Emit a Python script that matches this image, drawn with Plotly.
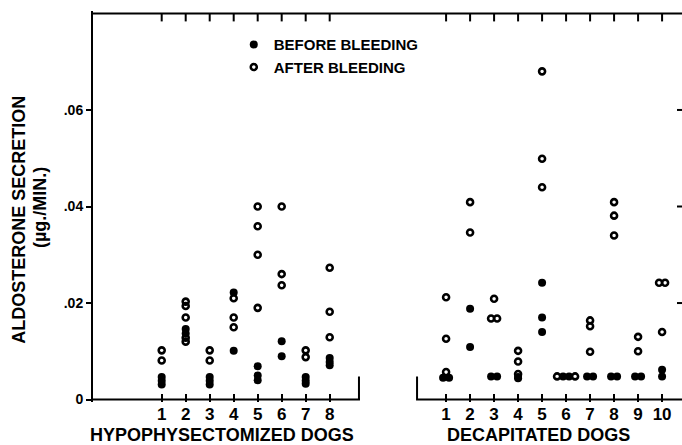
import plotly.graph_objects as go

# Aldosterone secretion (ug/min) per dog, before and after bleeding
hypo_dogs = ["1", "2", "3", "4", "5", "6", "7", "8"]
hypo_before = [
    [0.0047, 0.0039, 0.0031],
    [0.0146, 0.0137],
    [0.0047, 0.0039, 0.0031],
    [0.0222, 0.0101],
    [0.0069, 0.0050, 0.0040],
    [0.0121, 0.0090],
    [0.0047, 0.0039, 0.0033],
    [0.0086, 0.0078, 0.0071],
]
hypo_after = [
    [0.0102, 0.0081],
    [0.0203, 0.0194, 0.0170, 0.0128, 0.0120],
    [0.0102, 0.0081],
    [0.0210, 0.0170, 0.0150],
    [0.0400, 0.0359, 0.0300, 0.0190],
    [0.0400, 0.0260, 0.0237],
    [0.0102, 0.0088],
    [0.0273, 0.0182, 0.0129],
]

decap_dogs = ["1", "2", "3", "4", "5", "6", "7", "8", "9", "10"]
decap_before = [
    [0.0045, 0.0045],
    [0.0188, 0.0109],
    [0.0048, 0.0048],
    [0.0047, 0.0044],
    [0.0242, 0.0170, 0.0140],
    [0.0048, 0.0048],
    [0.0048, 0.0048],
    [0.0048, 0.0048],
    [0.0048, 0.0048],
    [0.0062, 0.0048],
]
decap_after = [
    [0.0212, 0.0126, 0.0057],
    [0.0409, 0.0346],
    [0.0209, 0.0168, 0.0168],
    [0.0101, 0.0079, 0.0053],
    [0.0680, 0.0499, 0.0440],
    [0.0048, 0.0048],
    [0.0164, 0.0152, 0.0099],
    [0.0409, 0.0381, 0.0340],
    [0.0130, 0.0100],
    [0.0242, 0.0242, 0.0140],
]

y_ticks = [0, 0.02, 0.04, 0.06]
y_ticktext = ["0", ".02", ".04", ".06"]

# layout of the category axis (dog slots)
DECAP_OFFSET = 11.85
X_RANGE = [-1.8625, 22.68]
Y_RANGE = [-0.0005, 0.0805]
FRAME_TOP = 0.08
HYPO_END = 9.22
DECAP_START = 11.64
END_BAR = 0.0048
SPREAD = 0.25
TOL = 0.0002

W, H = 682, 445
MARGIN = dict(l=93, r=0, t=11, b=43)
PLOT_W = W - MARGIN["l"] - MARGIN["r"]
PLOT_H = H - MARGIN["t"] - MARGIN["b"]
# tick lengths of the top and right frame, converted from px to data units
TOP_TICK_V = 8 * (Y_RANGE[1] - Y_RANGE[0]) / PLOT_H
RIGHT_TICK_X = 5 * (X_RANGE[1] - X_RANGE[0]) / PLOT_W

FONT = "Liberation Sans"


def place(slot, before, after):
    """Return x/y for both series, spreading coincident values sideways."""
    pts = [(v, "b") for v in before] + [(v, "a") for v in after]
    pts.sort(key=lambda p: p[0])
    clusters = []
    for p in pts:
        if clusters and abs(p[0] - clusters[-1][-1][0]) < TOL:
            clusters[-1].append(p)
        else:
            clusters.append([p])
    out = {"b": ([], []), "a": ([], [])}
    for c in clusters:
        afters = [p for p in c if p[1] == "a"]
        befores = [p for p in c if p[1] == "b"]
        half = (len(afters) + 1) // 2 if befores else len(afters)
        order = afters[:half] + befores + afters[half:]
        n = len(order)
        for k, (v, kind) in enumerate(order):
            out[kind][0].append(slot + (k - (n - 1) / 2) * SPREAD)
            out[kind][1].append(v)
    return out


bx, by, ax, ay = [], [], [], []
for i, (b, a) in enumerate(zip(hypo_before, hypo_after)):
    r = place(i + 1, b, a)
    bx += r["b"][0]; by += r["b"][1]; ax += r["a"][0]; ay += r["a"][1]
for j, (b, a) in enumerate(zip(decap_before, decap_after)):
    r = place(DECAP_OFFSET + j + 1, b, a)
    bx += r["b"][0]; by += r["b"][1]; ax += r["a"][0]; ay += r["a"][1]

tickvals = [i + 1 for i in range(len(hypo_dogs))] + \
           [DECAP_OFFSET + j + 1 for j in range(len(decap_dogs))]
ticktext = hypo_dogs + decap_dogs

fig = go.Figure()

frame = dict(color="black", width=2)

# baseline of each group with its closing bar
fig.add_trace(go.Scatter(
    x=[X_RANGE[0], HYPO_END, HYPO_END], y=[0, 0, END_BAR],
    mode="lines", line=dict(frame), showlegend=False, hoverinfo="skip"))
fig.add_trace(go.Scatter(
    x=[DECAP_START, DECAP_START, X_RANGE[1]], y=[END_BAR, 0, 0],
    mode="lines", line=dict(frame), showlegend=False, hoverinfo="skip"))

# top frame line
fig.add_trace(go.Scatter(
    x=[X_RANGE[0], X_RANGE[1]], y=[FRAME_TOP, FRAME_TOP],
    mode="lines", line=dict(frame), showlegend=False, hoverinfo="skip"))

# a tick hanging from the top frame over every dog
for tv in tickvals:
    fig.add_trace(go.Scatter(
        x=[tv, tv], y=[FRAME_TOP, FRAME_TOP - TOP_TICK_V],
        mode="lines", line=dict(frame), showlegend=False, hoverinfo="skip"))

# short ticks on the right-hand edge
for yv in y_ticks[1:]:
    fig.add_trace(go.Scatter(
        x=[X_RANGE[1] - RIGHT_TICK_X, X_RANGE[1]], y=[yv, yv],
        mode="lines", line=dict(frame), showlegend=False, hoverinfo="skip"))

fig.add_trace(go.Scatter(
    x=bx, y=by, mode="markers", name="BEFORE BLEEDING",
    marker=dict(symbol="circle", size=8, color="black"), cliponaxis=False))
fig.add_trace(go.Scatter(
    x=ax, y=ay, mode="markers", name="AFTER BLEEDING",
    marker=dict(symbol="circle-open", size=6, color="black",
                line=dict(width=2.6, color="black")), cliponaxis=False))

fig.update_layout(
    width=W, height=H,
    margin=MARGIN,
    paper_bgcolor="white", plot_bgcolor="white",
    font=dict(family=FONT, color="black"),
    showlegend=True,
    legend=dict(x=0.239, y=0.956, xanchor="left", yanchor="top",
                bgcolor="rgba(0,0,0,0)",
                font=dict(size=15, family=FONT, weight="bold"),
                itemwidth=30, tracegroupgap=0),
    xaxis=dict(range=X_RANGE, tickvals=tickvals, ticktext=ticktext,
               ticks="inside", ticklen=8, tickwidth=2, tickcolor="black",
               showline=False, showgrid=False, zeroline=False,
               tickfont=dict(size=17, family=FONT, weight="bold")),
    yaxis=dict(range=Y_RANGE, tickvals=y_ticks, ticktext=y_ticktext,
               ticks="outside", ticklen=5, tickwidth=2, tickcolor="black",
               showline=True, linewidth=2, linecolor="black",
               showgrid=False, zeroline=False,
               tickfont=dict(size=14, family=FONT, weight="bold")),
)

# group captions and vertical axis title
cap_font = dict(size=18, family=FONT, weight="bold")
fig.add_annotation(text="HYPOPHYSECTOMIZED DOGS", x=3.51, y=-0.0844,
                   xref="x", yref="paper", xanchor="center", yanchor="middle",
                   showarrow=False, font=cap_font)
fig.add_annotation(text="DECAPITATED DOGS", x=16.7, y=-0.0844,
                   xref="x", yref="paper", xanchor="center", yanchor="middle",
                   showarrow=False, font=cap_font)
fig.add_annotation(text="ALDOSTERONE SECRETION", x=-0.126, y=0.4655,
                   xref="paper", yref="paper", xanchor="center", yanchor="middle",
                   showarrow=False, textangle=-90, font=cap_font)
fig.add_annotation(text="(µg./MIN.)", x=-0.09, y=0.4987,
                   xref="paper", yref="paper", xanchor="center", yanchor="middle",
                   showarrow=False, textangle=-90, font=cap_font)

fig.write_html("out.html")
